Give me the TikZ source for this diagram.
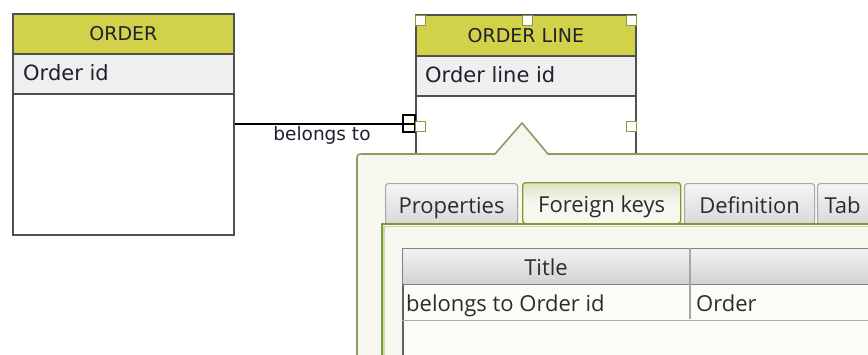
\documentclass[tikz,border=0pt]{standalone}
\usepackage{fontspec}
\newfontfamily\dfont{DejaVu Sans}
\newfontfamily\pfont{Open Sans}
\definecolor{hdrfill}{HTML}{D2D14A}
\definecolor{attrfill}{HTML}{EFEFEF}
\definecolor{entline}{HTML}{505050}
\definecolor{handle}{HTML}{8A9B3A}
\definecolor{popfill}{HTML}{F7F7F0}
\definecolor{popline}{HTML}{8E9A60}
\definecolor{selline}{HTML}{7D9A32}
\definecolor{tabline}{HTML}{A8A8A0}
\definecolor{txt}{HTML}{202030}
\definecolor{ptxt}{HTML}{2C2C2C}
\begin{document}
\begin{tikzpicture}[x=1pt,y=-1pt,
  ent/.style={draw=entline, line width=1.8pt, anchor=north west, inner sep=0pt, minimum width=221pt, font=\dfont\fontsize{19}{22}\selectfont, text=txt},
  hdr/.style={ent, fill=hdrfill, minimum height=40pt},
  attr/.style={ent, fill=attrfill, minimum height=40pt},
  entbody/.style={ent, fill=white},
  attrtext/.style={anchor=base west, inner sep=0pt, font=\dfont\fontsize{21}{24}\selectfont, text=txt},
  handlebox/.style={draw=handle, fill=white, line width=1.4pt, minimum size=10pt, inner sep=0pt, anchor=north west},
  tabbox/.style={draw=tabline, line width=1.1pt, rounded corners=3pt, top color=white!92!gray, bottom color=black!15!white, anchor=north west, inner sep=0pt, minimum height=41pt, text height=21pt, text depth=3pt, font=\pfont\fontsize{22}{26}\selectfont, text=ptxt},
  seltab/.style={tabbox, draw=selline, line width=1.3pt, top color=selline!22!popfill, bottom color=popfill, middle color=popfill},
  ptext/.style={inner sep=0pt, font=\pfont\fontsize{22}{26}\selectfont, text=ptxt}
]
\useasboundingbox (0,0) rectangle (868,354);
\fill[white] (0,0) rectangle (868,354);

% ORDER entity
\node[entbody, minimum height=141pt] (orderbody) at (12,93) {};
\node[attr] (orderattr) at (12,53) {};
\node[hdr] (orderhdr) at (12,13) {ORDER};
\node[attrtext] (orderid) at (23,80.5) {Order id};

% ORDER LINE entity
\node[entbody, minimum width=220pt, minimum height=80pt] (olbody) at (415,95) {};
\node[attr, minimum width=220pt] (olattr) at (415,55) {};
\node[hdr, minimum width=220pt, minimum height=41pt] (olhdr) at (415,14) {ORDER LINE};
\node[attrtext] (olid) at (425,82) {Order line id};

% connector
\draw[line width=1.5pt, black] ([yshift=-31pt]orderbody.north east) -- ([yshift=-29pt]olbody.north west);
\node[draw=black, line width=1.4pt, minimum width=12pt, minimum height=17pt, inner sep=0pt] (fkmark) at (409,123.5) {};
\node[inner sep=0pt, font=\dfont\fontsize{18.5}{21}\selectfont, text=txt] (rel) at (322,135) {belongs to};

% selection handles
\node[handlebox] (h1) at (415,15) {};
\node[handlebox] (h2) at (522,15) {};
\node[handlebox] (h3) at (626,15) {};
\node[handlebox] (h4) at (415,121) {};
\node[handlebox] (h5) at (626,121) {};

% popup
\draw[fill=popfill, draw=popline, line width=1.6pt]
  (357,380) -- (357,161) .. controls (357,154) .. (364,154) -- (495,154) -- (522,123) -- (548,154) -- (880,154) -- (880,380) -- cycle;

% tabs
\node[tabbox, minimum width=132pt] (tprop) at (385,183) {Properties};
\node[tabbox, minimum width=130pt] (tdef) at (684,183) {Definition};
\node[tabbox, minimum width=70pt, text width=62pt, align=left] (ttab) at (817,183) {\hspace*{3pt}Tab};
\node[seltab, minimum width=158pt] (tfk) at (522,182) {Foreign keys};

% panel
\draw[fill=popfill, draw=selline, line width=1.6pt] (382,380) -- (382,224) -- (880,224);
\draw[selline!35!popfill, line width=1.2pt] (384,380) -- (384,226.5) -- (880,226.5);

% table
\node[draw=black!62, line width=1.6pt, fill=white!60!popfill, anchor=north west, inner sep=0pt, minimum width=478pt, minimum height=130pt] (tbl) at (402,248) {};
\node[draw=black!50, line width=1.2pt, top color=black!5, bottom color=black!18, anchor=north west, inner sep=0pt, minimum width=478pt, minimum height=36pt] (thead) at (402,248) {};
\draw[black!32, line width=1.1pt] (thead.south west) ++(0,35) coordinate (rowsw) -- (rowsw -| thead.south east);
\draw[black!35, line width=1.1pt] (thead.north west) ++(288,0) coordinate (colt) -- ++(0,71);
\node[ptext, anchor=base] (ctitle) at (546,275) {Title};
\node[ptext, anchor=base west] (cval1) at (406,311) {belongs to Order id};
\node[ptext, anchor=base west] (cval2) at (696,311) {Order};
\end{tikzpicture}
\end{document}
